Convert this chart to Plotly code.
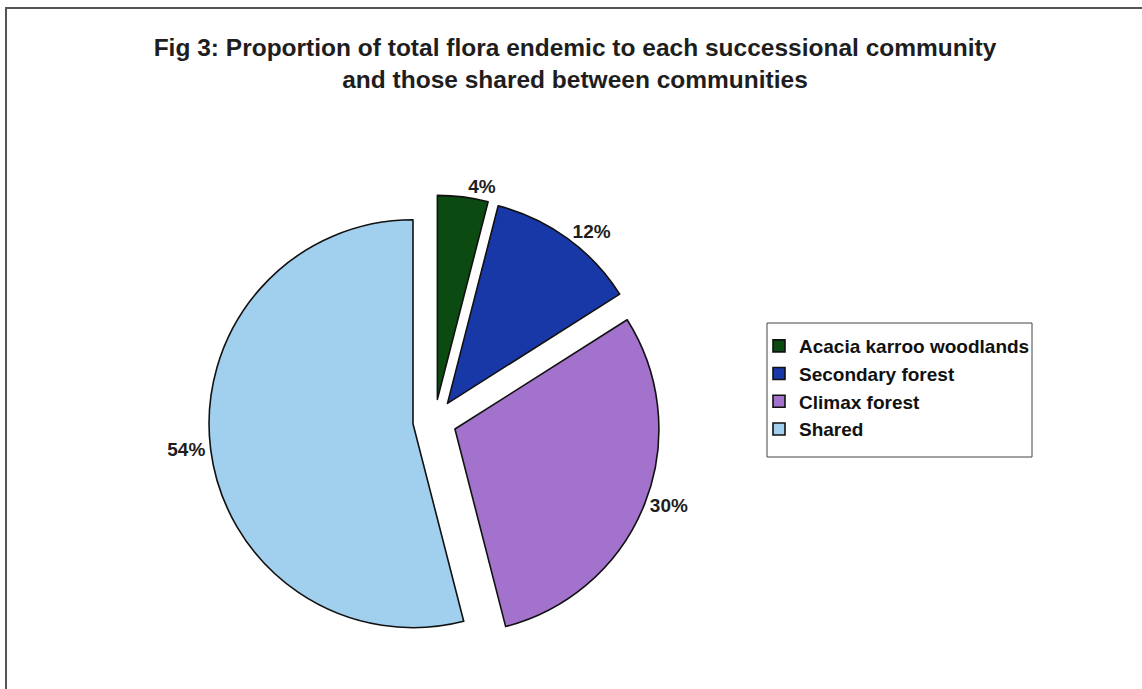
import plotly.graph_objects as go

# Share of total flora by successional community
communities = ["Acacia karroo woodlands", "Secondary forest", "Climax forest", "Shared"]
percentages = [4, 12, 30, 54]
slice_colors = ["#0b4a10", "#1838a8", "#a372cc", "#a1cfee"]

W, H = 1142, 689
FONT = "Liberation Sans, Arial, sans-serif"

fig = go.Figure()
fig.add_trace(go.Pie(
    labels=communities,
    values=percentages,
    sort=False,
    direction="clockwise",
    rotation=0,
    pull=[0.107] * len(percentages),
    marker=dict(colors=slice_colors, line=dict(color="#111111", width=1.6)),
    texttemplate="<b>%{percent:.0%}</b>",
    textposition="outside",
    outsidetextfont=dict(family=FONT, size=19, color="#1e1e1e"),
    hoverinfo="label+percent",
    domain=dict(x=[0.1829, 0.5783], y=[0.0612, 0.7167]),
))

fig.update_layout(
    width=W, height=H,
    margin=dict(l=0, r=0, t=0, b=0),
    paper_bgcolor="white",
    plot_bgcolor="white",
    font=dict(family=FONT, color="#1e1e1e"),
    title=dict(
        text="<b>Fig 3: Proportion of total flora endemic to each successional community<br>and those shared between communities</b>",
        x=575 / W, xanchor="center", xref="paper",
        y=1 - 56 / H, yanchor="top",
        font=dict(size=24.5, color="#1e1e1e"),
    ),
    showlegend=True,
    legend=dict(
        x=759 / W, y=1 - 327 / H, xanchor="left", yanchor="top",
        bgcolor="rgba(0,0,0,0)", borderwidth=0,
        font=dict(size=19, color="#111111", weight="bold"),
        traceorder="normal",
        itemwidth=30,
    ),
    shapes=[
        # outer chart frame
        dict(type="rect", xref="paper", yref="paper",
             x0=6 / W, x1=1.02, y0=-0.02, y1=1 - 8 / H,
             line=dict(color="#555555", width=2)),
        # legend box
        dict(type="rect", xref="paper", yref="paper", layer="below",
             x0=767 / W, x1=1032 / W, y0=1 - 457 / H, y1=1 - 323 / H,
             line=dict(color="#444444", width=1), fillcolor="white"),
    ],
)

fig.write_html("out.html")
